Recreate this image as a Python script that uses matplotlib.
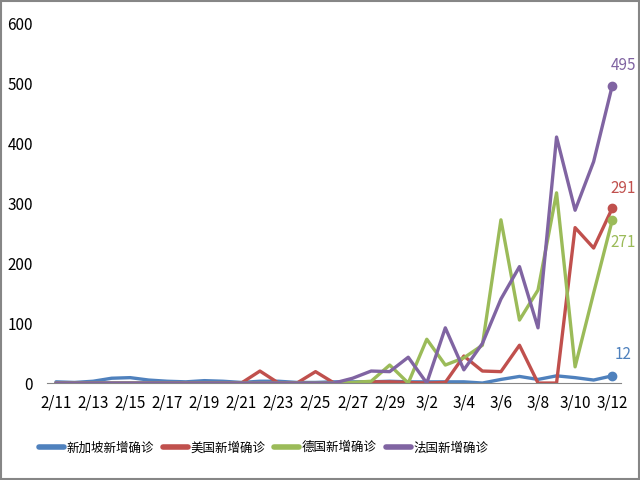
import matplotlib
matplotlib.use("Agg")
import matplotlib.pyplot as plt
from matplotlib.patches import Rectangle

plt.rcParams['font.family'] = ['Liberation Sans Narrow', 'Noto Sans CJK SC', 'DejaVu Sans']

dates = ["2/11","2/12","2/13","2/14","2/15","2/16","2/17","2/18","2/19","2/20",
         "2/21","2/22","2/23","2/24","2/25","2/26","2/27","2/28","2/29","3/1",
         "3/2","3/3","3/4","3/5","3/6","3/7","3/8","3/9","3/10","3/11","3/12"]
singapore = [2, 1, 3, 8, 9, 5, 3, 2, 4, 3, 1, 3, 3, 1, 1, 2, 2, 2, 3, 2,
             2, 2, 2, 0, 6, 11, 6, 12, 9, 5, 12]
usa = [0, 0, 0, 0, 0, 0, 0, 0, 0, 0, 0, 20, 0, 0, 19, 0, 0, 2, 2, 1,
       0, 1, 45, 20, 19, 63, 0, 0, 259, 225, 291]
germany = [0, 0, 0, 0, 0, 0, 0, 0, 0, 0, 0, 0, 0, 0, 0, 0, 1, 3, 30, 0,
           73, 30, 42, 63, 272, 105, 155, 317, 27, 150, 271]
france = [0, 0, 0, 0, 0, 0, 0, 0, 0, 0, 0, 0, 0, 0, 0, 0, 8, 20, 19, 43,
          0, 92, 22, 66, 140, 194, 92, 410, 288, 369, 495]
names = ["新加坡新增确诊", "美国新增确诊", "德国新增确诊", "法国新增确诊"]
colors = ["#4F81BD", "#C0504D", "#9BBB59", "#8064A2"]

fig = plt.figure(figsize=(6.4, 4.8), dpi=100)
ax = fig.add_axes([0.073, 0.202, 0.898, 0.75])
x = list(range(len(dates)))
series = [singapore, usa, germany, france]
for s, name, c in zip(series, names, colors):
    ax.plot(x, s, color=c, lw=2.4, label=name, solid_joinstyle='round', solid_capstyle='round')
    ax.plot(x[-1], s[-1], 'o', color=c, ms=6)

offs = {0: (8, 9, 'bottom'), 1: (8, 8, 'bottom'), 2: (8, -10, 'top'), 3: (8, 9, 'bottom')}
for i, (s, c) in enumerate(zip(series, colors)):
    dx, dy, va = offs[i]
    ax.annotate(str(s[-1]), (x[-1], s[-1]), xytext=(dx, dy), textcoords='offset points',
                color=c, fontsize=11, ha='center', va=va)

ax.set_xlim(-0.5, 30.5)
ax.set_ylim(0, 600)
ax.set_yticks(range(0, 601, 100))
ax.set_xticks(x[::2])
ax.set_xticklabels(dates[::2])
for sp in ['top', 'right', 'left']:
    ax.spines[sp].set_visible(False)
ax.spines['bottom'].set_color('#868686')
ax.tick_params(axis='x', length=0, pad=8, labelsize=11)
ax.tick_params(axis='y', length=0, pad=10, labelsize=11)

leg = fig.legend(loc='center', bbox_to_anchor=(0.412, 0.067), ncol=4, frameon=False,
                 prop={'family': ['Noto Sans CJK SC'], 'size': 9, 'weight': 'light'},
                 handlelength=2.0, columnspacing=0.7, handletextpad=0.2)
for line in leg.get_lines():
    line.set_linewidth(4)

fig.patches.append(Rectangle((0.002, 0.002), 0.996, 0.996, transform=fig.transFigure,
                             fill=False, edgecolor='#868686', lw=1.5))
fig.savefig("out.png", dpi=100)
